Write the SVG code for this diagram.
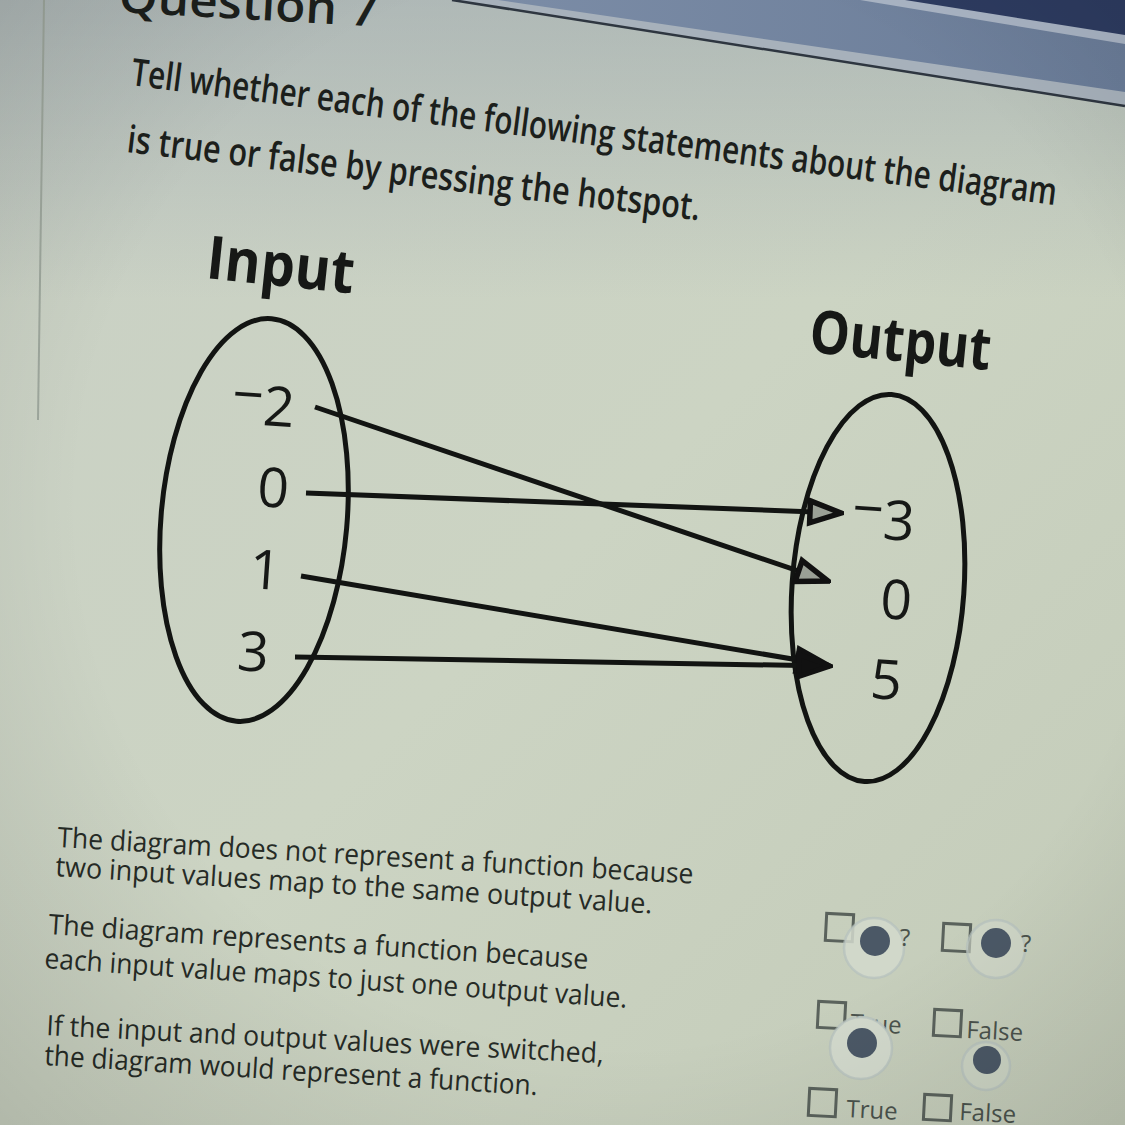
<svg xmlns="http://www.w3.org/2000/svg" width="1125" height="1125" viewBox="0 0 1125 1125">
<defs>
  <linearGradient id="bg" x1="0" y1="0" x2="1" y2="1">
    <stop offset="0" stop-color="#c9d0c5"/>
    <stop offset="0.5" stop-color="#ccd4c3"/>
    <stop offset="1" stop-color="#c3cbb8"/>
  </linearGradient>
  <linearGradient id="topshade" x1="0" y1="0" x2="0" y2="1">
    <stop offset="0" stop-color="#8e9aa6" stop-opacity="0.45"/>
    <stop offset="1" stop-color="#8e9aa6" stop-opacity="0"/>
  </linearGradient>
  <linearGradient id="band" x1="0" y1="0" x2="1" y2="0">
    <stop offset="0" stop-color="#7b8ca6"/>
    <stop offset="1" stop-color="#6a7c98"/>
  </linearGradient>
  <radialGradient id="vig" cx="0.55" cy="0.45" r="0.8">
    <stop offset="0.6" stop-color="#000" stop-opacity="0"/>
    <stop offset="1" stop-color="#000" stop-opacity="0.14"/>
  </radialGradient>
  <marker id="arr" viewBox="0 0 38 30" refX="35" refY="15" markerWidth="38" markerHeight="30" markerUnits="userSpaceOnUse" orient="auto">
    <path d="M4,4 L35,15 L4,26 Z" fill="#9aa096" stroke="#111" stroke-width="5.5" stroke-linejoin="miter"/>
  </marker>
  <marker id="arrf" viewBox="0 0 38 30" refX="35" refY="15" markerWidth="38" markerHeight="30" markerUnits="userSpaceOnUse" orient="auto">
    <path d="M4,4 L35,15 L4,26 Z" fill="#111" stroke="#111" stroke-width="5" stroke-linejoin="miter"/>
  </marker>
  <style>
    .head{font-family:"Open Sans","Liberation Sans",sans-serif;font-weight:600;fill:#1c1f1c}
    .lbl{font-family:"Open Sans","Liberation Sans",sans-serif;font-weight:700;fill:#161816}
    .num{font-family:"Open Sans","Liberation Sans",sans-serif;font-weight:400;fill:#161816;font-size:55px}
    .stmt{font-family:"Open Sans","Liberation Sans",sans-serif;font-weight:400;fill:#262b26;font-size:28px}
    .opt{font-family:"Open Sans","Liberation Sans",sans-serif;font-weight:400;fill:#4a524c;font-size:24px}
    .oval{fill:none;stroke:#121412;stroke-width:5}
    .conn{fill:none;stroke:#121412;stroke-width:5;marker-end:url(#arr)}
    .connf{fill:none;stroke:#121412;stroke-width:5;marker-end:url(#arrf)}
    .box{fill:none;stroke:#5a625c;stroke-width:3}
    .dot{fill:#4b5866}
    .halo{fill:#d2d9cc;stroke:#b5c1bd;stroke-width:2.5;stroke-opacity:0.7}
  </style>
</defs>

<!-- background -->
<rect width="1125" height="1125" fill="url(#bg)"/>
<rect width="1125" height="300" fill="url(#topshade)"/>
<polygon points="452,0 1125,0 1125,106" fill="#a7b1bb"/>
<polygon points="498,0 1125,0 1125,92" fill="url(#band)"/>
<polygon points="860,0 1125,0 1125,44" fill="#a9b4c4"/>
<polygon points="905,0 1125,0 1125,35" fill="#2d3b60"/>
<line x1="452" y1="0" x2="1125" y2="106" stroke="#2e3640" stroke-width="2.5"/>
<line x1="44" y1="0" x2="38" y2="420" stroke="#9ea79d" stroke-width="2"/>

<!-- header text -->
<text class="head" x="118" y="12" font-size="46" font-weight="700" textLength="260" lengthAdjust="spacingAndGlyphs" transform="rotate(3.2 118 12)">Question 7</text>
<text class="head" x="130" y="85" font-size="38" textLength="933" lengthAdjust="spacingAndGlyphs" transform="rotate(7.4 130 85)">Tell whether each of the following statements about the diagram</text>
<text class="head" x="126" y="152" font-size="38" textLength="577" lengthAdjust="spacingAndGlyphs" transform="rotate(6.8 126 152)">is true or false by pressing the hotspot.</text>

<!-- input set -->
<g id="input">
  <text class="lbl" x="205" y="278" font-size="60" textLength="148" lengthAdjust="spacingAndGlyphs" transform="rotate(6 205 278)">Input</text>
  <ellipse class="oval" cx="254" cy="520" rx="93" ry="202" transform="rotate(5 254 520)"/>
  <text class="num" x="262" y="425" text-anchor="middle" transform="rotate(4 262 425)"><tspan dy="-10">−</tspan><tspan dy="10">2</tspan></text>
  <text class="num" x="272" y="507" text-anchor="middle" transform="rotate(4 272 507)">0</text>
  <text class="num" x="264" y="589" text-anchor="middle" transform="rotate(4 264 589)">1</text>
  <text class="num" x="252" y="671" text-anchor="middle" transform="rotate(4 252 671)">3</text>
</g>

<!-- output set -->
<g id="output">
  <text class="lbl" x="808" y="352" font-size="60" textLength="182" lengthAdjust="spacingAndGlyphs" transform="rotate(5.7 808 352)">Output</text>
  <ellipse class="oval" cx="878" cy="588" rx="86" ry="194" transform="rotate(4 878 588)"/>
  <text class="num" x="882" y="539" text-anchor="middle" transform="rotate(4 882 539)"><tspan dy="-10">−</tspan><tspan dy="10">3</tspan></text>
  <text class="num" x="895" y="619" text-anchor="middle" transform="rotate(4 895 619)">0</text>
  <text class="num" x="885" y="699" text-anchor="middle" transform="rotate(4 885 699)">5</text>
</g>

<!-- connectors -->
<g id="connectors">
  <path class="conn" d="M315,407 L828,581"/>
  <path class="conn" d="M306,493 L841,513"/>
  <path class="connf" d="M301,576 L828,665"/>
  <path class="connf" d="M295,657 L830,666"/>
</g>

<!-- statements -->
<g id="statements">
  <text class="stmt" x="57" y="847" textLength="637" lengthAdjust="spacingAndGlyphs" transform="rotate(3.3 57 847)">The diagram does not represent a function because</text>
  <text class="stmt" x="55" y="876" textLength="598" lengthAdjust="spacingAndGlyphs" transform="rotate(3.6 55 876)">two input values map to the same output value.</text>
  <text class="stmt" x="48" y="934" textLength="541" lengthAdjust="spacingAndGlyphs" transform="rotate(3.7 48 934)">The diagram represents a function because</text>
  <text class="stmt" x="44" y="968" textLength="584" lengthAdjust="spacingAndGlyphs" transform="rotate(3.9 44 968)">each input value maps to just one output value.</text>
  <text class="stmt" x="46" y="1035" textLength="558" lengthAdjust="spacingAndGlyphs" transform="rotate(2.9 46 1035)">If the input and output values were switched,</text>
  <text class="stmt" x="44" y="1065" textLength="494" lengthAdjust="spacingAndGlyphs" transform="rotate(3.5 44 1065)">the diagram would represent a function.</text>
</g>

<!-- answer controls -->
<g id="row1">
  <rect class="box" x="826" y="914" width="27" height="27" transform="rotate(3 839 927)"/>
  <circle class="halo" cx="874" cy="948" r="30" fill-opacity="0.85"/>
  <circle class="dot" cx="875" cy="941" r="15"/>
  <text class="opt" x="900" y="946" font-size="20" font-weight="700">?</text>
  <rect class="box" x="943" y="924" width="27" height="27" transform="rotate(3 956 937)"/>
  <circle class="halo" cx="996" cy="949" r="29" fill-opacity="0.6"/>
  <circle class="dot" cx="996" cy="943" r="15"/>
  <text class="opt" x="1021" y="952" font-size="20" font-weight="700">?</text>
</g>
<g id="row2">
  <rect class="box" x="818" y="1002" width="27" height="26" transform="rotate(3 831 1015)"/>
  <text class="opt" x="850" y="1031" transform="rotate(3 850 1031)">True</text>
  <circle class="halo" cx="861" cy="1048" r="31"/>
  <circle class="dot" cx="862" cy="1043" r="15"/>
  <rect class="box" x="934" y="1010" width="27" height="26" transform="rotate(3 947 1023)"/>
  <text class="opt" x="966" y="1038" transform="rotate(3 966 1038)">False</text>
  <circle class="halo" cx="986" cy="1066" r="24" fill-opacity="0.5" stroke-opacity="0.4"/>
  <circle class="dot" cx="987" cy="1060" r="14"/>
</g>
<g id="row3">
  <rect class="box" x="809" y="1089" width="27" height="27" transform="rotate(3 822 1102)"/>
  <text class="opt" x="846" y="1117" transform="rotate(3 846 1117)">True</text>
  <rect class="box" x="924" y="1095" width="27" height="25" transform="rotate(3 937 1108)"/>
  <text class="opt" x="959" y="1120" transform="rotate(3 959 1120)">False</text>
</g>

<rect width="1125" height="1125" fill="url(#vig)" pointer-events="none"/>
</svg>
